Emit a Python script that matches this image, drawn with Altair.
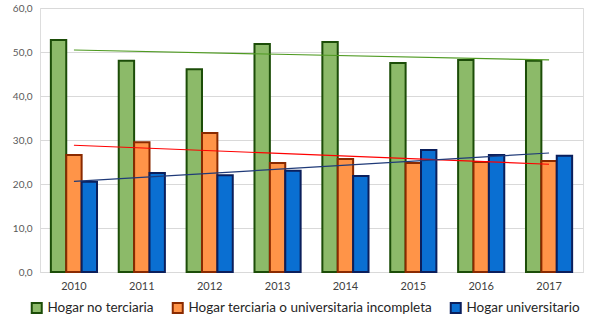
import altair as alt
import pandas as pd

years = [2010, 2011, 2012, 2013, 2014, 2015, 2016, 2017]
series_names = [
    "Hogar no terciaria",
    "Hogar terciaria o universitaria incompleta",
    "Hogar universitario",
]
no_terciaria = [52.7, 48.0, 46.1, 51.8, 52.3, 47.5, 48.2, 48.0]
terciaria_incompleta = [26.6, 29.5, 31.6, 24.8, 25.7, 24.8, 25.0, 25.2]
universitario = [20.5, 22.5, 22.0, 23.0, 21.8, 27.7, 26.6, 26.4]

fill_colors = ["#8cba69", "#ff9448", "#0a6fd2"]
stroke_colors = ["#1c4d08", "#8a2a00", "#0b1f5c"]
trend_colors = ["#4f9a22", "#ff0000", "#1f3a78"]

rows = []
for name, vals in zip(series_names, [no_terciaria, terciaria_incompleta, universitario]):
    for y, v in zip(years, vals):
        rows.append({"year": y, "series": name, "value": v})
df = pd.DataFrame(rows)

font = "Lato"

x_enc = alt.X(
    "year:O",
    scale=alt.Scale(paddingInner=0.32, paddingOuter=0.16),
    axis=alt.Axis(
        title=None, labelAngle=0, ticks=False, domainColor="#d9d9d9",
        labelFontSize=11, labelColor="#404040", labelPadding=8, labelFont=font,
    ),
)
y_enc = alt.Y(
    "value:Q",
    scale=alt.Scale(domain=[0, 60]),
    axis=alt.Axis(
        title=None, values=[0, 10, 20, 30, 40, 50, 60], ticks=False, domain=False,
        gridColor="#d9d9d9", labelFontSize=10, labelColor="#595959", labelPadding=8,
        labelFont=font, labelExpr="replace(format(datum.value, '.1f'), '.', ',')",
    ),
)

legend_kw = dict(title=None, orient="none", legendX=-10, legendY=293, direction="horizontal",
                 symbolType="square", symbolSize=100, symbolStrokeWidth=2,
                 labelFontSize=13.5, labelFont=font, labelColor="#262626",
                 columnPadding=14, labelOffset=4, padding=0, labelLimit=400)

bars = alt.Chart(df).mark_bar(strokeWidth=2).encode(
    x=x_enc,
    y=y_enc,
    xOffset=alt.XOffset("series:N", sort=series_names, scale=alt.Scale(domain=series_names, paddingInner=0)),
    fill=alt.Fill("series:N", sort=series_names, scale=alt.Scale(domain=series_names, range=fill_colors),
                  legend=alt.Legend(**legend_kw)),
    stroke=alt.Stroke("series:N", sort=series_names, scale=alt.Scale(domain=series_names, range=stroke_colors),
                      legend=alt.Legend(**legend_kw)),
)

trend = alt.Chart(df).transform_regression("year", "value", groupby=["series"]).mark_line(strokeWidth=1.2).encode(
    x=alt.X("year:O"),
    y=alt.Y("value:Q"),
    color=alt.Color("series:N", scale=alt.Scale(domain=series_names, range=trend_colors), legend=None),
)

chart = alt.layer(bars, trend).properties(
    width=543, height=264,
    autosize=alt.AutoSizeParams(type="none"),
    padding={"left": 40, "top": 8, "right": 19, "bottom": 60},
).configure_view(stroke="#d9d9d9").configure(font=font)

chart.save("out.html", embed_options={"renderer": "svg", "actions": False})
